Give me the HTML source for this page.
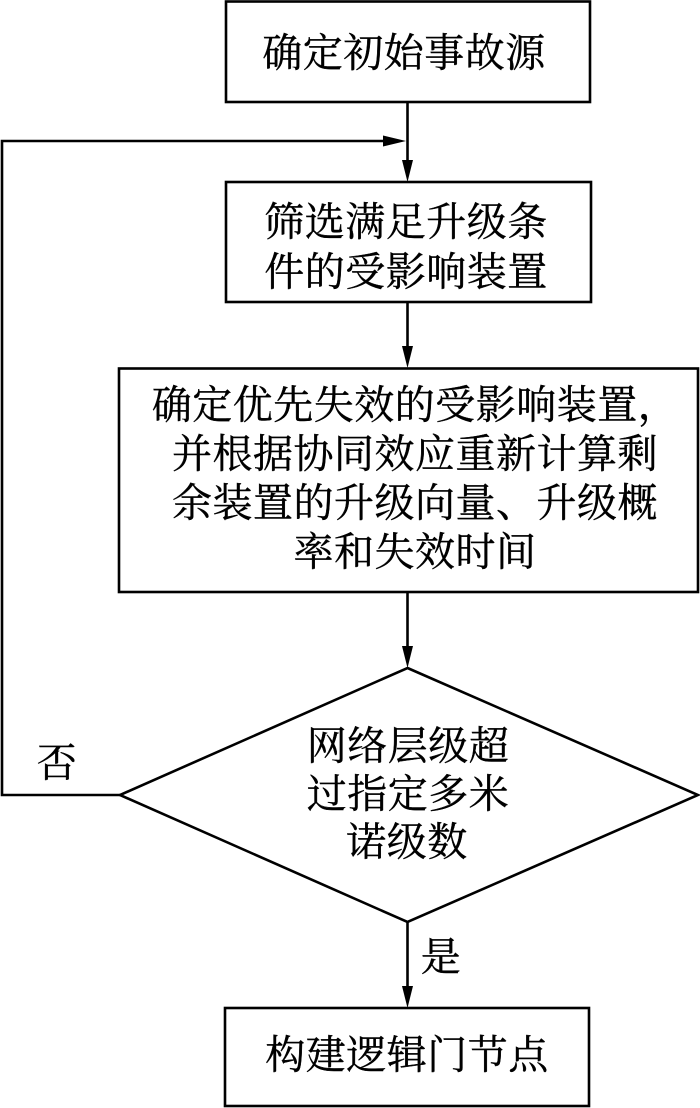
<!DOCTYPE html>
<html>
<head>
<meta charset="utf-8">
<style>
  html, body { margin: 0; padding: 0; background: #fff; }
  body { width: 700px; height: 1108px; overflow: hidden; }
  svg { display: block; }
  text {
    font-family: "Liberation Serif", "Noto Serif CJK SC", "Noto Sans CJK SC", serif;
    font-size: 40px;
    fill: #000;
    stroke: #000;
    stroke-width: 0.4px;
    letter-spacing: 0.5px;
  }
</style>
</head>
<body>
<svg width="700" height="1108" viewBox="0 0 700 1108" xmlns="http://www.w3.org/2000/svg">
  <g fill="none" stroke="#000" stroke-width="2.6">
    <!-- Box 1 -->
    <rect x="226" y="1.5" width="364" height="100.5"/>
    <!-- Box 2 -->
    <rect x="226" y="182" width="365" height="120"/>
    <!-- Box 3 -->
    <rect x="119" y="368.5" width="579" height="223.5"/>
    <!-- Diamond -->
    <polygon points="407.5,668 698,795 407.5,922 120,795"/>
    <!-- Box 4 -->
    <rect x="225" y="1008" width="364" height="98"/>

    <!-- vertical connectors -->
    <line x1="407.5" y1="102" x2="407.5" y2="162"/>
    <line x1="407.5" y1="302" x2="407.5" y2="348"/>
    <line x1="407.5" y1="592" x2="407.5" y2="648"/>
    <line x1="407.5" y1="922" x2="407.5" y2="988"/>

    <!-- loop back -->
    <polyline points="120,795 2,795 2,141 386,141"/>
  </g>

  <!-- arrowheads -->
  <g fill="#000" stroke="none">
    <polygon points="402,160 413,160 407.5,182"/>
    <polygon points="402,346 413,346 407.5,368"/>
    <polygon points="402,646 413,646 407.5,668"/>
    <polygon points="402,986 413,986 407.5,1008"/>
    <polygon points="383,135.5 383,146.5 406,141"/>
  </g>

  <!-- Box texts -->
  <text x="404" y="53" text-anchor="middle" dominant-baseline="central">确定初始事故源</text>

  <text x="406" y="222" text-anchor="middle" dominant-baseline="central">筛选满足升级条</text>
  <text x="406" y="272" text-anchor="middle" dominant-baseline="central">件的受影响装置</text>

  <text x="415" y="405" text-anchor="middle" dominant-baseline="central">确定优先失效的受影响装置，</text>
  <text x="415" y="454" text-anchor="middle" dominant-baseline="central">并根据协同效应重新计算剩</text>
  <text x="415" y="503" text-anchor="middle" dominant-baseline="central">余装置的升级向量、升级概</text>
  <text x="415" y="552" text-anchor="middle" dominant-baseline="central">率和失效时间</text>

  <text x="408" y="746" text-anchor="middle" dominant-baseline="central">网络层级超</text>
  <text x="408" y="794" text-anchor="middle" dominant-baseline="central">过指定多米</text>
  <text x="407" y="842" text-anchor="middle" dominant-baseline="central">诺级数</text>

  <text x="407" y="1055" text-anchor="middle" dominant-baseline="central">构建逻辑门节点</text>

  <!-- labels -->
  <text x="57" y="763" text-anchor="middle" dominant-baseline="central">否</text>
  <text x="441" y="957" text-anchor="middle" dominant-baseline="central">是</text>
</svg>
</body>
</html>
